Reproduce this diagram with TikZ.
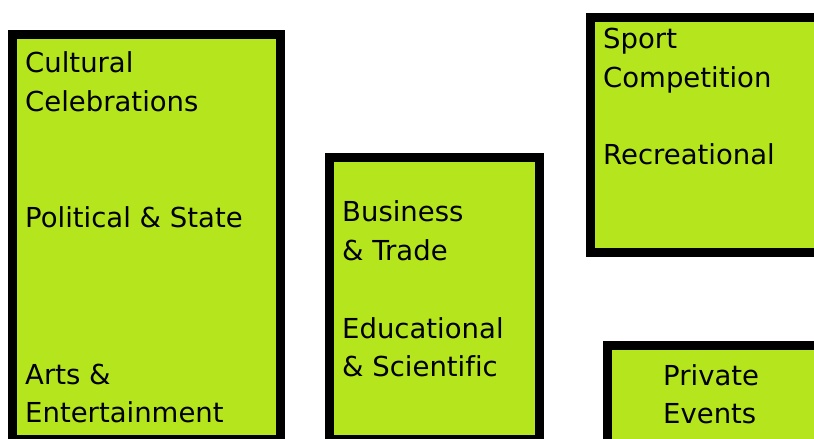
\documentclass[tikz,border=0pt]{standalone}
\usepackage{fontspec}
\setmainfont[Ligatures=NoCommon]{DejaVu Sans}
\definecolor{lime}{RGB}{181,230,29}
\begin{document}
\begin{tikzpicture}[x=1pt,y=-1pt,
  catbox/.style={draw=black,line width=9pt,fill=lime,line join=miter},
  lbl/.style={anchor=base west,inner sep=0pt,font=\fontsize{27.5}{38.5}\selectfont,text=black}]
\useasboundingbox (0,0) rectangle (814,439);
\clip (0,0) rectangle (814,439);
% boxes
\draw[catbox] (12.5,34.5) rectangle (280.5,439.5);
\draw[catbox] (329.5,157.5) rectangle (539.5,439.5);
\draw[catbox] (590.5,17.5) rectangle (830,252.5);
\draw[catbox] (607.5,345.5) rectangle (830,460);
% box 1
\node[lbl] (t1) at (25,72.7) {Cultural};
\node[lbl] (t2) at (25,111.7) {Celebrations};
\node[lbl] (t3) at (25,227.7) {Political \& State};
\node[lbl] (t4) at (25,384.7) {Arts \&};
\node[lbl] (t5) at (25,422.7) {Entertainment};
% box 2
\node[lbl] (u1) at (342,221.7) {Business};
\node[lbl] (u2) at (342,260.2) {\& Trade};
\node[lbl] (u3) at (342,338.2) {Educational};
\node[lbl] (u4) at (342,376.7) {\& Scientific};
% box 3
\node[lbl] (v1) at (603,48.7) {Sport};
\node[lbl] (v2) at (603,87.2) {Competition};
\node[lbl] (v3) at (603,164.7) {Recreational};
% box 4
\node[lbl] (w1) at (663,385.7) {Private};
\node[lbl] (w2) at (663,423.7) {Events};
\end{tikzpicture}
\end{document}
